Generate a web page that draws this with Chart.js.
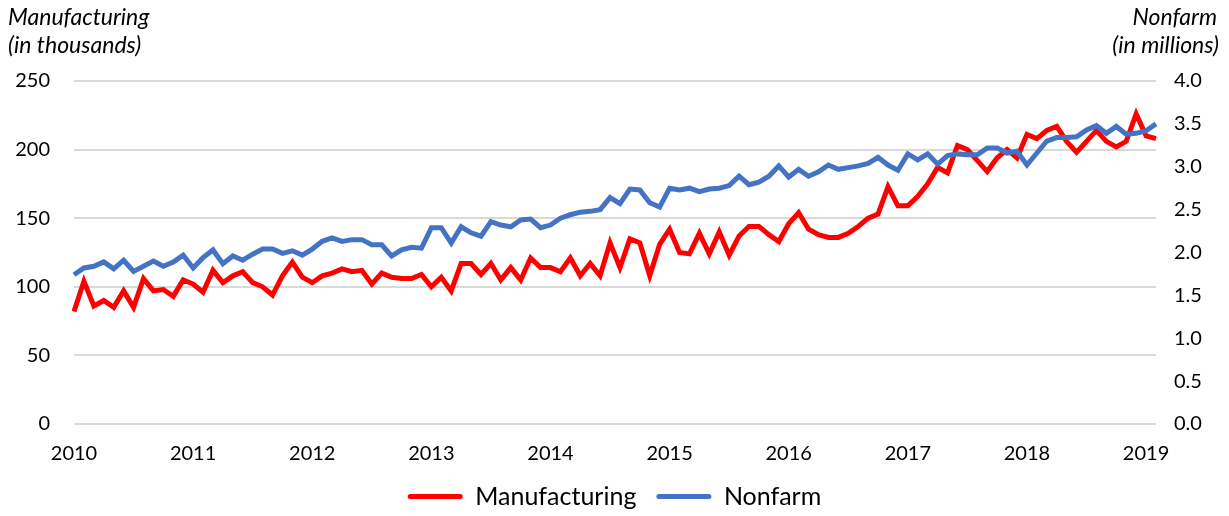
<!DOCTYPE html>
<html>
<head>
<meta charset="utf-8">
<script src="https://cdn.jsdelivr.net/npm/chart.js@4"></script>
<style>
  html, body { margin: 0; padding: 0; background: #fff; }
  #wrap { width: 1229px; height: 516px; }
</style>
</head>
<body>
<div id="wrap"><canvas id="chart1"></canvas></div>
<script>
// monthly, Jan 2010 - Feb 2019
const years = [2010, 2011, 2012, 2013, 2014, 2015, 2016, 2017, 2018, 2019];
const months = [];
years.forEach(y => {
  for (let m = 1; m <= 12; m++) {
    if (y === 2019 && m > 2) break;
    months.push(y + '-' + String(m).padStart(2, '0'));
  }
});

// manufacturing, thousands (left axis)
const manufacturing = [
  82, 104, 86, 90, 85, 97, 85, 106, 97, 98, 93, 105,
  102, 96, 112, 103, 108, 111, 103, 100, 94, 108, 118, 107,
  103, 108, 110, 113, 111, 112, 102, 110, 107, 106, 106, 109,
  100, 107, 97, 117, 117, 109, 117, 105, 114, 105, 121, 114,
  114, 111, 121, 108, 117, 108, 132, 114, 135, 132, 108, 131,
  142, 125, 124, 139, 124, 140, 123, 137, 144, 144, 138, 133,
  146, 154, 142, 138, 136, 136, 139, 144, 150, 153, 173, 159,
  159, 166, 175, 187, 183, 203, 200, 192, 184, 194, 200, 194,
  211, 208, 214, 217, 206, 198, 206, 214, 206, 202, 206, 226,
  210, 208
];

// nonfarm, millions (right axis)
const nonfarm = [
  1.74, 1.82, 1.84, 1.89, 1.81, 1.91, 1.78, 1.84, 1.90, 1.84, 1.89, 1.97,
  1.82, 1.94, 2.03, 1.87, 1.96, 1.91, 1.98, 2.04, 2.04, 1.99, 2.02, 1.97,
  2.04, 2.13, 2.17, 2.13, 2.15, 2.15, 2.09, 2.09, 1.96, 2.03, 2.06, 2.05,
  2.29, 2.29, 2.11, 2.30, 2.23, 2.19, 2.36, 2.32, 2.30, 2.38, 2.39, 2.29,
  2.32, 2.40, 2.44, 2.47, 2.48, 2.50, 2.64, 2.57, 2.74, 2.73, 2.58, 2.53,
  2.75, 2.73, 2.75, 2.71, 2.74, 2.75, 2.78, 2.89, 2.79, 2.82, 2.89, 3.01,
  2.88, 2.97, 2.89, 2.94, 3.02, 2.97, 2.99, 3.01, 3.04, 3.11, 3.02, 2.96,
  3.15, 3.08, 3.15, 3.03, 3.13, 3.15, 3.14, 3.14, 3.22, 3.22, 3.16, 3.18,
  3.02, 3.16, 3.30, 3.34, 3.34, 3.35, 3.43, 3.48, 3.39, 3.47, 3.38, 3.39,
  3.42, 3.50
];

const FONT = 'Lato, Carlito, Calibri, "Liberation Sans", sans-serif';

// axis captions at the top corners
const captions = {
  id: 'captions',
  afterDraw(chart) {
    const c = chart.ctx;
    c.save();
    c.fillStyle = '#000';
    c.font = 'italic 23px ' + FONT;
    c.textBaseline = 'alphabetic';
    c.textAlign = 'left';
    c.fillText('Manufacturing', 8, 25);
    c.fillText('(in thousands)', 8, 53);
    c.textAlign = 'right';
    c.fillText('Nonfarm', 1217, 25);
    c.fillText('(in millions)', 1219, 53);
    c.restore();
  }
};

const ctx = document.getElementById('chart1').getContext('2d');
const chart = new Chart(ctx, {
  type: 'line',
  data: {
    labels: months,
    datasets: [{
      label: 'Manufacturing',
      data: manufacturing,
      borderColor: '#FF0000',
      backgroundColor: '#FF0000',
      borderWidth: 5,
      pointRadius: 0,
      tension: 0,
      yAxisID: 'y',
      order: 1
    }, {
      label: 'Nonfarm',
      data: nonfarm,
      borderColor: '#4472C4',
      backgroundColor: '#4472C4',
      borderWidth: 5,
      pointRadius: 0,
      tension: 0,
      yAxisID: 'y1',
      order: 0
    }]
  },
  options: {
    responsive: true,
    maintainAspectRatio: false,
    animation: false,
    layout: { padding: { top: 81, left: 0, right: 0, bottom: -3 } },
    plugins: {
      tooltip: { enabled: false },
      legend: {
        position: 'bottom',
        labels: {
          boxWidth: 55,
          boxHeight: 5,
          useBorderRadius: true,
          borderRadius: 2.5,
          padding: 20,
          color: '#000',
          font: { size: 25, family: FONT },
          generateLabels: (ch) => Chart.defaults.plugins.legend.labels.generateLabels(ch)
            .map(l => ({ ...l, lineWidth: 0, fillStyle: l.strokeStyle }))
            .sort((a, b) => a.datasetIndex - b.datasetIndex)
        }
      }
    },
    scales: {
      x: {
        offset: false,
        grid: { display: false, drawTicks: false },
        border: { display: false },
        ticks: {
          autoSkip: false,
          maxRotation: 0,
          padding: 18,
          color: '#000',
          font: { size: 20, family: FONT },
          callback: function (value) {
            const lab = this.getLabelForValue(value);
            return lab.endsWith('-01') ? lab.slice(0, 4) : '';
          }
        },
        afterFit: (s) => { s.height = 40; }
      },
      y: {
        position: 'left',
        min: 0,
        max: 250,
        ticks: { stepSize: 50, padding: 24, color: '#000', font: { size: 20, family: FONT } },
        grid: { color: '#D9D9D9', lineWidth: 2, drawTicks: false },
        border: { display: false },
        afterFit: (s) => { s.width = 74; }
      },
      y1: {
        position: 'right',
        min: 0,
        max: 4,
        ticks: {
          stepSize: 0.5,
          padding: 18,
          color: '#000',
          font: { size: 20, family: FONT },
          callback: (v) => Number(v).toFixed(1)
        },
        grid: { drawOnChartArea: false, drawTicks: false },
        border: { display: false },
        afterFit: (s) => { s.width = 73; }
      }
    }
  },
  plugins: [captions]
});
</script>
</body>
</html>
